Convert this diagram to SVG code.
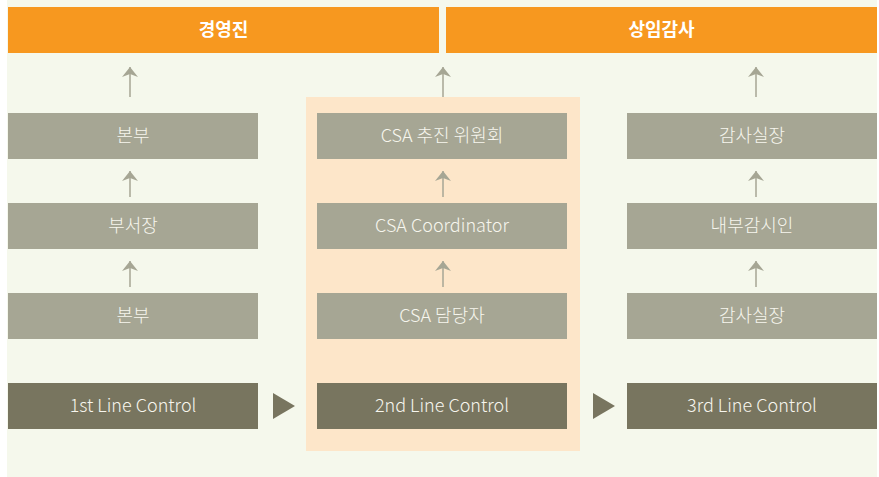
<svg xmlns="http://www.w3.org/2000/svg" width="879" height="477" viewBox="0 0 879 477">
<defs>
<style>
.bg{fill:#f5f8ec}
.top{fill:#f7981f}
.box{fill:#a6a694}
.dark{fill:#78755f}
.t{font-family:"Noto Sans CJK KR","Noto Sans",sans-serif;font-size:18px;fill:#f7f6ee;text-anchor:middle;font-weight:300}
.tt{font-family:"Noto Sans CJK KR","Noto Sans",sans-serif;font-size:18px;fill:#ffffff;text-anchor:middle;font-weight:700}
.ar{stroke:#a6a694;stroke-width:1.5;fill:none}
.ah{fill:#a6a694}
.tri{fill:#78755f}
</style>
<marker id="up" viewBox="0 0 10 16" refX="10" refY="8" markerWidth="10" markerHeight="16" markerUnits="userSpaceOnUse" orient="auto">
<path d="M0,0 L10,8 L0,16 L3,8 Z" class="ah"/>
</marker>
</defs>
<rect width="879" height="477" fill="#ffffff"/>
<rect x="7" y="0" width="870" height="477" class="bg"/>
<rect x="306" y="97" width="274" height="354" fill="#fde6c9"/>

<g id="exec"><rect x="8" y="7" width="431" height="46" class="top"/><text x="223.5" y="36" class="tt">경영진</text></g>
<g id="audit"><rect x="446" y="7" width="431" height="46" class="top"/><text x="661.5" y="36" class="tt">상임감사</text></g>

<g id="l1"><rect x="8" y="113" width="250" height="46" class="box"/><text x="133" y="142" class="t">본부</text></g>
<g id="l2"><rect x="8" y="203" width="250" height="46" class="box"/><text x="133" y="232" class="t">부서장</text></g>
<g id="l3"><rect x="8" y="293" width="250" height="46" class="box"/><text x="133" y="322" class="t">본부</text></g>
<g id="l4"><rect x="8" y="383" width="250" height="46" class="dark"/><text x="133" y="412" class="t">1st Line Control</text></g>

<g id="m1"><rect x="317" y="113" width="250" height="46" class="box"/><text x="442" y="142" class="t">CSA 추진 위원회</text></g>
<g id="m2"><rect x="317" y="203" width="250" height="46" class="box"/><text x="442" y="232" class="t">CSA Coordinator</text></g>
<g id="m3"><rect x="317" y="293" width="250" height="46" class="box"/><text x="442" y="322" class="t">CSA 담당자</text></g>
<g id="m4"><rect x="317" y="383" width="250" height="46" class="dark"/><text x="442" y="412" class="t">2nd Line Control</text></g>

<g id="r1"><rect x="627" y="113" width="250" height="46" class="box"/><text x="752" y="142" class="t">감사실장</text></g>
<g id="r2"><rect x="627" y="203" width="250" height="46" class="box"/><text x="752" y="232" class="t">내부감시인</text></g>
<g id="r3"><rect x="627" y="293" width="250" height="46" class="box"/><text x="752" y="322" class="t">감사실장</text></g>
<g id="r4"><rect x="627" y="383" width="250" height="46" class="dark"/><text x="752" y="412" class="t">3rd Line Control</text></g>

<g id="connectors">
<line x1="130" y1="97" x2="130" y2="67" class="ar" marker-end="url(#up)"/>
<line x1="130" y1="197" x2="130" y2="171" class="ar" marker-end="url(#up)"/>
<line x1="130" y1="287" x2="130" y2="261" class="ar" marker-end="url(#up)"/>
<line x1="443" y1="97" x2="443" y2="67" class="ar" marker-end="url(#up)"/>
<line x1="443" y1="197" x2="443" y2="171" class="ar" marker-end="url(#up)"/>
<line x1="443" y1="287" x2="443" y2="261" class="ar" marker-end="url(#up)"/>
<line x1="756" y1="97" x2="756" y2="67" class="ar" marker-end="url(#up)"/>
<line x1="756" y1="197" x2="756" y2="171" class="ar" marker-end="url(#up)"/>
<line x1="756" y1="287" x2="756" y2="261" class="ar" marker-end="url(#up)"/>
<path d="M273,393 L295,406 L273,419 Z" class="tri"/>
<path d="M593,393 L615,406 L593,419 Z" class="tri"/>
</g>
</svg>
